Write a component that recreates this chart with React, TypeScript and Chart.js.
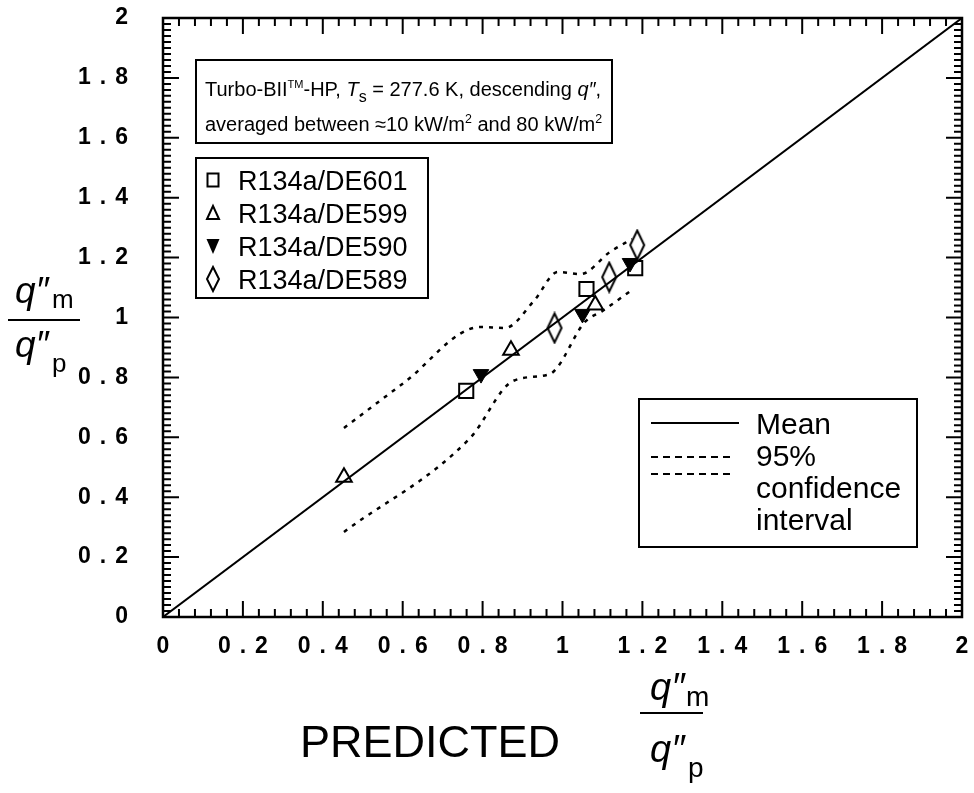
import React, { useEffect, useRef } from 'react';
import { Chart, registerables } from 'chart.js';
Chart.register(...registerables);

// ---- data ----
const tickValues = [0, 0.2, 0.4, 0.6, 0.8, 1, 1.2, 1.4, 1.6, 1.8, 2];
const meanX = [0, 2];
const meanY = [0, 2];
const de601X = [0.759, 1.06, 1.182];
const de601Y = [0.755, 1.095, 1.165];
const de599X = [0.453, 0.871, 1.082];
const de599Y = [0.467, 0.891, 1.042];
const de590X = [0.796, 1.05, 1.169];
const de590Y = [0.811, 1.012, 1.182];
const de589X = [0.98, 1.117, 1.187];
const de589Y = [0.965, 1.135, 1.242];
const upperX = [0.453, 0.602, 0.794, 0.856, 0.93, 0.988, 1.045, 1.119, 1.174];
const upperY = [0.631, 0.781, 0.968, 0.965, 1.058, 1.152, 1.145, 1.219, 1.262];
const lowerX = [0.453, 0.769, 0.876, 0.968, 0.988, 1.054, 1.1, 1.174];
const lowerY = [0.284, 0.598, 0.788, 0.811, 0.835, 0.982, 1.022, 1.092];
const seriesNames = ['R134a/DE601', 'R134a/DE599', 'R134a/DE590', 'R134a/DE589'];

const pts = (xs: number[], ys: number[]) => xs.map((x, i) => ({ x, y: ys[i] }));

const FAM = '"Liberation Sans", Arial, Helvetica, sans-serif';

function makeDiamond(w: number, h: number, lw: number) {
  const c = document.createElement('canvas');
  c.width = w + lw * 2;
  c.height = h + lw * 2;
  const ctx = c.getContext('2d')!;
  ctx.beginPath();
  ctx.moveTo(c.width / 2, lw);
  ctx.lineTo(c.width - lw, c.height / 2);
  ctx.lineTo(c.width / 2, c.height - lw);
  ctx.lineTo(lw, c.height / 2);
  ctx.closePath();
  ctx.lineWidth = lw;
  ctx.strokeStyle = '#000';
  ctx.stroke();
  return c;
}

type Seg = { t: string; it?: boolean; sup?: boolean; sub?: boolean; scale?: number };
function drawRich(ctx: CanvasRenderingContext2D, segs: Seg[], x: number, y: number, size: number) {
  let cx = x;
  for (const s of segs) {
    const sz = s.sup || s.sub ? size * (s.scale ?? 0.62) : size;
    ctx.font = `${s.it ? 'italic ' : ''}${sz}px ${FAM}`;
    const dy = s.sup ? -size * 0.4 : s.sub ? size * 0.3 : 0;
    ctx.fillText(s.t, cx, y + dy);
    cx += ctx.measureText(s.t).width;
  }
  return cx;
}

export default function App() {
  const ref = useRef<HTMLCanvasElement>(null);
  useEffect(() => {
    document.body.style.margin = '0';
    const diamond = makeDiamond(14, 29, 2);
    const diamondSmall = makeDiamond(12, 24, 2);

    const decor = {
      id: 'decor',
      beforeDraw(chart: any) {
        chart.ctx.letterSpacing = '9px';
      },
      beforeDatasetsDraw(chart: any) {
        chart.ctx.letterSpacing = '0px';
      },
      afterDraw(chart: any) {
        const ctx: CanvasRenderingContext2D = chart.ctx;
        const { left, right, top, bottom } = chart.chartArea;
        const xs = chart.scales.x;
        const ys = chart.scales.y;
        ctx.save();
        ctx.letterSpacing = '0px';
        ctx.strokeStyle = '#000';
        ctx.fillStyle = '#000';
        // frame
        ctx.lineWidth = 2.5;
        ctx.strokeRect(left, top, right - left, bottom - top);
        // inward ticks
        ctx.lineWidth = 2;
        ctx.beginPath();
        for (let i = 0; i <= 50; i++) {
          const v = i * 0.04;
          const px = xs.getPixelForValue(v);
          const len = i % 5 === 0 ? 16 : 8;
          ctx.moveTo(px, bottom);
          ctx.lineTo(px, bottom - len);
          ctx.moveTo(px, top);
          ctx.lineTo(px, top + len);
        }
        for (let i = 0; i <= 100; i++) {
          const v = i * 0.02;
          const py = ys.getPixelForValue(v);
          const len = i % 10 === 0 ? 16 : 8;
          ctx.moveTo(left, py);
          ctx.lineTo(left + len, py);
          ctx.moveTo(right, py);
          ctx.lineTo(right - len, py);
        }
        ctx.stroke();

        ctx.textBaseline = 'alphabetic';
        ctx.textAlign = 'left';
        // info box
        ctx.lineWidth = 2;
        ctx.fillStyle = '#fff';
        ctx.fillRect(196, 60, 416, 83);
        ctx.strokeRect(196, 60, 416, 83);
        ctx.fillStyle = '#000';
        drawRich(ctx, [
          { t: 'Turbo-BII' }, { t: 'TM', sup: true, scale: 0.55 }, { t: '-HP, ' },
          { t: 'T', it: true }, { t: 's', sub: true, scale: 0.8 },
          { t: ' = 277.6 K, descending ' }, { t: 'q\u2033', it: true }, { t: ',' },
        ], 205, 96, 20);
        drawRich(ctx, [
          { t: 'averaged between \u224810 kW/m' }, { t: '2', sup: true, scale: 0.62 },
          { t: ' and 80 kW/m' }, { t: '2', sup: true, scale: 0.62 },
        ], 205, 131, 20);

        // series legend
        ctx.fillStyle = '#fff';
        ctx.fillRect(196, 158, 232, 140);
        ctx.strokeRect(196, 158, 232, 140);
        ctx.fillStyle = '#000';
        const ly = [180, 213, 246, 279];
        const sx = 213;
        ctx.lineWidth = 2;
        ctx.strokeRect(sx - 5.5, ly[0] - 6.5, 11, 13);
        ctx.beginPath();
        ctx.moveTo(sx, ly[1] - 7);
        ctx.lineTo(sx + 6, ly[1] + 6);
        ctx.lineTo(sx - 6, ly[1] + 6);
        ctx.closePath();
        ctx.stroke();
        ctx.beginPath();
        ctx.moveTo(sx - 6.5, ly[2] - 7);
        ctx.lineTo(sx + 6.5, ly[2] - 7);
        ctx.lineTo(sx, ly[2] + 8);
        ctx.closePath();
        ctx.fill();
        ctx.drawImage(diamondSmall, sx - diamondSmall.width / 2, ly[3] - diamondSmall.height / 2);
        ctx.font = `27px ${FAM}`;
        seriesNames.forEach((n, i) => ctx.fillText(n, 238, ly[i] + 9.5));

        // line legend
        ctx.fillStyle = '#fff';
        ctx.fillRect(639, 399, 278, 148);
        ctx.strokeRect(639, 399, 278, 148);
        ctx.fillStyle = '#000';
        ctx.beginPath();
        ctx.moveTo(651, 423);
        ctx.lineTo(739, 423);
        ctx.stroke();
        ctx.setLineDash([7, 5]);
        ctx.beginPath();
        ctx.moveTo(651, 457);
        ctx.lineTo(733, 457);
        ctx.moveTo(651, 474);
        ctx.lineTo(733, 474);
        ctx.stroke();
        ctx.setLineDash([]);
        ctx.font = `30px ${FAM}`;
        ['Mean', '95%', 'confidence', 'interval'].forEach((t, i) => ctx.fillText(t, 756, 434 + i * 32));

        // y-axis title fraction
        drawRich(ctx, [{ t: 'q\u2033', it: true }], 15, 303, 37);
        ctx.font = `26px ${FAM}`;
        ctx.fillText('m', 52, 308);
        ctx.lineWidth = 2;
        ctx.beginPath();
        ctx.moveTo(8, 320);
        ctx.lineTo(80, 320);
        ctx.stroke();
        drawRich(ctx, [{ t: 'q\u2033', it: true }], 15, 357, 37);
        ctx.font = `26px ${FAM}`;
        ctx.fillText('p', 52, 372);

        // x-axis title
        ctx.font = `45px ${FAM}`;
        ctx.fillText('PREDICTED', 300, 757);
        drawRich(ctx, [{ t: 'q\u2033', it: true }], 650, 700, 38);
        ctx.font = `28px ${FAM}`;
        ctx.fillText('m', 686, 706);
        ctx.beginPath();
        ctx.moveTo(640, 713);
        ctx.lineTo(703, 713);
        ctx.stroke();
        drawRich(ctx, [{ t: 'q\u2033', it: true }], 650, 762, 38);
        ctx.font = `28px ${FAM}`;
        ctx.fillText('p', 688, 777);
        ctx.restore();
      },
    };

    const tickFont = { family: FAM, size: 23, weight: 'bold' as const };
    const fmt = (v: any) => (tickValues.some((t) => Math.abs(t - v) < 1e-6) ? String(Number(Number(v).toFixed(1))) : '');

    const chart = new Chart(ref.current!, {
      type: 'scatter',
      data: {
        datasets: [
          { type: 'line', label: 'Mean', data: pts(meanX, meanY), borderColor: '#000', borderWidth: 2, pointRadius: 0, fill: false },
          { type: 'line', label: 'upper', data: pts(upperX, upperY), borderColor: '#000', borderWidth: 2.5, borderDash: [4, 6], pointRadius: 0, cubicInterpolationMode: 'monotone', fill: false },
          { type: 'line', label: 'lower', data: pts(lowerX, lowerY), borderColor: '#000', borderWidth: 2.5, borderDash: [4, 6], pointRadius: 0, cubicInterpolationMode: 'monotone', fill: false },
          { label: seriesNames[0], data: pts(de601X, de601Y), pointStyle: 'rect', pointRadius: 10, borderColor: '#000', borderWidth: 2, backgroundColor: 'rgba(0,0,0,0)' },
          { label: seriesNames[1], data: pts(de599X, de599Y), pointStyle: 'triangle', pointRadius: 9, borderColor: '#000', borderWidth: 2, backgroundColor: 'rgba(0,0,0,0)' },
          { label: seriesNames[2], data: pts(de590X, de590Y), pointStyle: 'triangle', rotation: 180, pointRadius: 9, borderColor: '#000', borderWidth: 1, backgroundColor: '#000' },
          { label: seriesNames[3], data: pts(de589X, de589Y), pointStyle: diamond as any, pointRadius: 10, borderColor: '#000', backgroundColor: 'rgba(0,0,0,0)' },
        ],
      } as any,
      options: {
        animation: false,
        responsive: false,
        maintainAspectRatio: false,
        events: [],
        layout: { padding: { left: 0, right: 7, top: 18, bottom: 0 } },
        plugins: { legend: { display: false }, tooltip: { enabled: false }, title: { display: false } },
        scales: {
          x: {
            type: 'linear', min: 0, max: 2,
            afterFit: (s: any) => { s.height = 176; s.paddingLeft = 0; s.paddingRight = 0; },
            ticks: { stepSize: 0.2, padding: 16, labelOffset: 4.5, font: tickFont, color: '#000', callback: fmt, maxRotation: 0, autoSkip: false },
            grid: { display: false, drawTicks: false },
            border: { display: false },
          },
          y: {
            type: 'linear', min: 0, max: 2,
            afterFit: (s: any) => { s.width = 163; s.paddingTop = 0; s.paddingBottom = 0; },
            ticks: { stepSize: 0.2, padding: 26, font: tickFont, color: '#000', callback: fmt, autoSkip: false },
            grid: { display: false, drawTicks: false },
            border: { display: false },
          },
        },
      } as any,
      plugins: [decor],
    });
    return () => chart.destroy();
  }, []);
  return (
    <div style={{ width: 974, height: 793, background: '#fff' }}>
      <canvas ref={ref} width={974} height={793} style={{ display: 'block' }} />
    </div>
  );
}
